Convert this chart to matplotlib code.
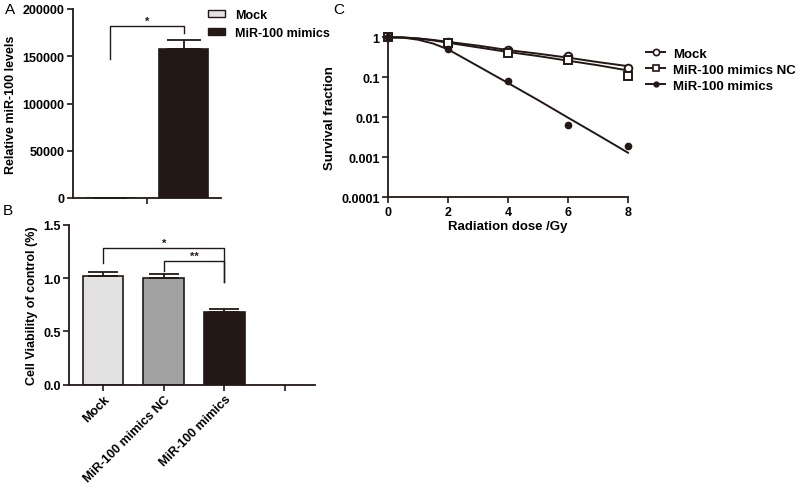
import matplotlib
matplotlib.use('Agg')
import matplotlib.pyplot as plt
import numpy as np
from matplotlib.patches import Patch
from matplotlib.lines import Line2D
from matplotlib.ticker import FuncFormatter, NullLocator

plt.rcParams['font.family'] = ['Liberation Sans', 'DejaVu Sans']
plt.rcParams['font.weight'] = 'bold'
plt.rcParams['axes.labelweight'] = 'bold'

# panel A - relative miR-100 levels
groups_a = ['Mock', 'MiR-100 mimics']
levels_a = [1, 158000]
err_a = [0, 9000]

# panel B - cell viability
cats_b = ['Mock', 'MiR-100 mimics NC', 'MiR-100 mimics', '']
viab_b = [1.02, 1.00, 0.68]
err_b = [0.035, 0.035, 0.03]

# panel C - survival fraction
dose = [0, 2, 4, 6, 8]
sf_mock = [1.0, 0.78, 0.49, 0.35, 0.17]
sf_nc = [1.0, 0.71, 0.40, 0.27, 0.107]
sf_mimics = [1.0, 0.51, 0.081, 0.0063, 0.00195]
fit_dose = [0, 0.5, 1, 1.5, 2, 3, 4, 5, 6, 7, 8]
fit_mock = [1.0, 0.99, 0.94, 0.86, 0.77, 0.62, 0.48, 0.39, 0.31, 0.24, 0.19]
fit_nc = [1.0, 0.99, 0.93, 0.84, 0.73, 0.56, 0.43, 0.34, 0.26, 0.20, 0.148]
fit_mimics = [1.0, 0.98, 0.87, 0.70, 0.50, 0.19, 0.072, 0.027, 0.0098, 0.0036, 0.0013]

ink = '#231815'
c_light = '#e2e2e2'
c_mid = '#a2a2a2'
fs = 9


def style(ax):
    for s in ['top', 'right']:
        ax.spines[s].set_visible(False)
    for s in ['left', 'bottom']:
        ax.spines[s].set_linewidth(1.3)
        ax.spines[s].set_color(ink)
    ax.tick_params(direction='out', length=4, width=1.2, color=ink, labelsize=fs, pad=2)


def bracket(ax, x0, x1, top, y0, y1, label, tx):
    ax.plot([x0, x0, x1, x1], [y0, top, top, y1], color=ink, lw=1)
    ax.text(tx, top, label, ha='center', va='bottom', fontsize=8, color=ink)


fig = plt.figure(figsize=(8, 4.89), dpi=100)

# ---- A
axA = fig.add_axes([73/800, 1-199/489, 148/800, 189/489])
style(axA)
xa = np.array([-0.5, 0.5])
axA.bar(xa, levels_a, width=0.67, color=[c_light, ink], edgecolor=ink, lw=1.2,
        yerr=[[0, 0], err_a], capsize=12, error_kw=dict(ecolor=ink, elinewidth=1.3, capthick=1.3))
axA.set_xlim(-1.01, 1.01)
axA.set_ylim(0, 200000)
axA.set_yticks([0, 50000, 100000, 150000, 200000])
axA.set_xticks([0])
axA.set_xticklabels([''])
axA.set_ylabel('Relative miR-100 levels', fontsize=fs, labelpad=4)
bracket(axA, xa[0], xa[1], 182000, 147000, 175000, '*', 0)
axA.legend(handles=[Patch(facecolor=c_light, edgecolor=ink, lw=1, label=groups_a[0]),
                    Patch(facecolor=ink, edgecolor=ink, lw=1, label=groups_a[1])],
           loc='upper left', bbox_to_anchor=(203/800, 1-5/489), bbox_transform=fig.transFigure,
           frameon=False, fontsize=fs, handlelength=1.4, handleheight=0.5, labelspacing=0.5,
           handletextpad=0.8, borderaxespad=0)

# ---- B
axB = fig.add_axes([69/800, 1-385.7/489, 246/800, 160/489])
style(axB)
xb = np.arange(len(cats_b))
axB.bar(xb[:3], viab_b, width=0.67, color=[c_light, c_mid, ink], edgecolor=ink, lw=1.2,
        yerr=[[0, 0, 0], err_b], capsize=11, error_kw=dict(ecolor=ink, elinewidth=1.3, capthick=1.3))
axB.set_xlim(-0.56, 3.49)
axB.set_ylim(0, 1.5)
axB.set_yticks([0, 0.5, 1.0, 1.5])
axB.yaxis.set_major_formatter(FuncFormatter(lambda v, p: '%.1f' % v))
axB.set_xticks(xb)
axB.set_xticklabels(cats_b, rotation=45, ha='right', rotation_mode='anchor', fontsize=fs)
axB.set_ylabel('Cell Viability of control (%)', fontsize=fs, labelpad=4)
bracket(axB, 0, 2, 1.28, 1.14, 0.965, '*', 1)
bracket(axB, 1, 2, 1.16, 1.066, 0.965, '**', 1.5)

# ---- C
axC = fig.add_axes([388/800, 1-198.3/489, 240/800, 160/489])
style(axC)
axC.set_yscale('log')
axC.plot(fit_dose, fit_mock, color=ink, lw=1.4, clip_on=False)
axC.plot(fit_dose, fit_nc, color=ink, lw=1.4, clip_on=False)
axC.plot(fit_dose, fit_mimics, color=ink, lw=1.4, clip_on=False)
axC.plot(dose, sf_mock, 'o', ms=5.5, mfc='white', mec=ink, mew=1.4, clip_on=False)
axC.plot(dose, sf_nc, 's', ms=5.5, mfc='white', mec=ink, mew=1.4, clip_on=False)
axC.plot(dose, sf_mimics, 'o', ms=4.5, mfc=ink, mec=ink, clip_on=False)
axC.set_xlim(0, 8)
axC.set_ylim(1e-4, 1)
axC.set_xticks([0, 2, 4, 6, 8])
axC.set_yticks([1e-4, 1e-3, 1e-2, 1e-1, 1])
axC.yaxis.set_minor_locator(NullLocator())
axC.yaxis.set_major_formatter(FuncFormatter(lambda v, p: '%g' % v))
axC.set_xlabel('Radiation dose /Gy', fontsize=fs+0.5, labelpad=2)
axC.set_ylabel('Survival fraction', fontsize=fs+0.5, labelpad=4)
hC = [Line2D([], [], color=ink, lw=1.4, marker='o', ms=4.5, mfc='white', mec=ink, mew=1.2),
      Line2D([], [], color=ink, lw=1.4, marker='s', ms=4.5, mfc='white', mec=ink, mew=1.2),
      Line2D([], [], color=ink, lw=1.4, marker='o', ms=3.5, mfc=ink, mec=ink)]
axC.legend(hC, ['Mock', 'MiR-100 mimics NC', 'MiR-100 mimics'],
           loc='upper left', bbox_to_anchor=(641/800, 1-43/489), bbox_transform=fig.transFigure,
           frameon=False, fontsize=fs+0.5, handlelength=1.4, labelspacing=0.3,
           handletextpad=0.6, borderaxespad=0)

# panel letters
fig.text(5/800, 1-10/489, 'A', fontsize=11, fontweight='normal', va='center')
fig.text(3/800, 1-211/489, 'B', fontsize=11, fontweight='normal', va='center')
fig.text(333/800, 1-10/489, 'C', fontsize=11, fontweight='normal', va='center')

fig.savefig('out.png', dpi=100)
